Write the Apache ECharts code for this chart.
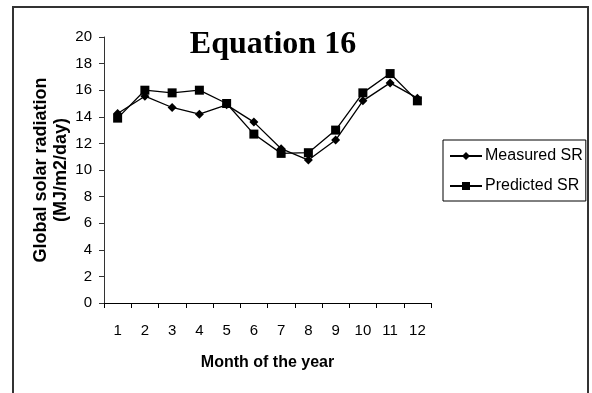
<!DOCTYPE html>
<html>
<head>
<meta charset="utf-8">
<script src="https://cdn.jsdelivr.net/npm/echarts@6/dist/echarts.min.js"></script>
<style>
  html, body { margin: 0; padding: 0; background: #fff; }
  #chart { width: 592px; height: 393px; }
</style>
</head>
<body>
<div id="chart"></div>
<script>
// months on x axis
var months = ['1', '2', '3', '4', '5', '6', '7', '8', '9', '10', '11', '12'];
// values (MJ/m2/day)
var measuredSR = [14.25, 15.55, 14.7, 14.2, 14.9, 13.6, 11.6, 10.75, 12.25, 15.2, 16.55, 15.4];
var predictedSR = [13.9, 16.0, 15.8, 16.0, 15.0, 12.7, 11.25, 11.3, 13.0, 15.8, 17.25, 15.2];

var chart = echarts.init(document.getElementById('chart'), null, { renderer: 'canvas' });

var sans = "'Liberation Sans', Arial, sans-serif";

var option = {
  backgroundColor: '#ffffff',
  animation: false,
  // outer frame
  graphic: [{
    type: 'rect',
    shape: { x: 13, y: 7, width: 575, height: 400 },
    style: { fill: 'none', stroke: '#333', lineWidth: 2 },
    silent: true
  }],
  title: {
    text: 'Equation 16',
    left: 268,
    textAlign: 'center',
    top: 24,
    textStyle: {
      fontFamily: "'Liberation Serif', 'Times New Roman', serif",
      fontWeight: 'bold',
      fontSize: 32,
      color: '#000'
    }
  },
  legend: {
    orient: 'vertical',
    left: 443,
    top: 140,
    padding: [8, 3, 7, 6],
    itemGap: 14,
    itemWidth: 32,
    itemHeight: 10,
    borderColor: '#000',
    borderWidth: 1,
    textStyle: { fontFamily: sans, fontSize: 16, color: '#000', padding: [0, 0, 0, -2] },
    data: ['Measured SR', 'Predicted SR']
  },
  grid: { left: 104, right: 161, top: 37, bottom: 90, containLabel: false },
  xAxis: {
    type: 'category',
    data: months,
    name: 'Month of the year',
    nameLocation: 'middle',
    nameGap: 52,
    nameMoveOverlap: false,
    nameTextStyle: { fontFamily: sans, fontWeight: 'bold', fontSize: 16, color: '#000' },
    axisLine: { lineStyle: { color: '#000', width: 1 } },
    axisTick: { show: true, length: 5, lineStyle: { color: '#000', width: 1 } },
    axisLabel: { interval: 0, margin: 20, fontFamily: sans, fontSize: 15, color: '#000' }
  },
  yAxis: {
    type: 'value',
    min: 0,
    max: 20,
    interval: 2,
    name: 'Global solar radiation\n(MJ/m2/day)',
    nameLocation: 'middle',
    nameGap: 33,
    nameMoveOverlap: false,
    nameTextStyle: { fontFamily: sans, fontWeight: 'bold', fontSize: 18, lineHeight: 20, color: '#000' },
    axisLine: { show: true, lineStyle: { color: '#333', width: 1 } },
    axisTick: { show: true, length: 5, lineStyle: { color: '#333', width: 1 } },
    axisLabel: { margin: 12, fontFamily: sans, fontSize: 15, color: '#000' },
    splitLine: { show: false }
  },
  series: [{
    name: 'Measured SR',
    type: 'line',
    data: measuredSR,
    symbol: 'diamond',
    symbolSize: 9,
    lineStyle: { color: '#000', width: 1.3 },
    itemStyle: { color: '#000' }
  }, {
    name: 'Predicted SR',
    type: 'line',
    data: predictedSR,
    symbol: 'rect',
    symbolSize: 9,
    lineStyle: { color: '#000', width: 1.3 },
    itemStyle: { color: '#000' }
  }]
};

chart.setOption(option);
</script>
</body>
</html>
